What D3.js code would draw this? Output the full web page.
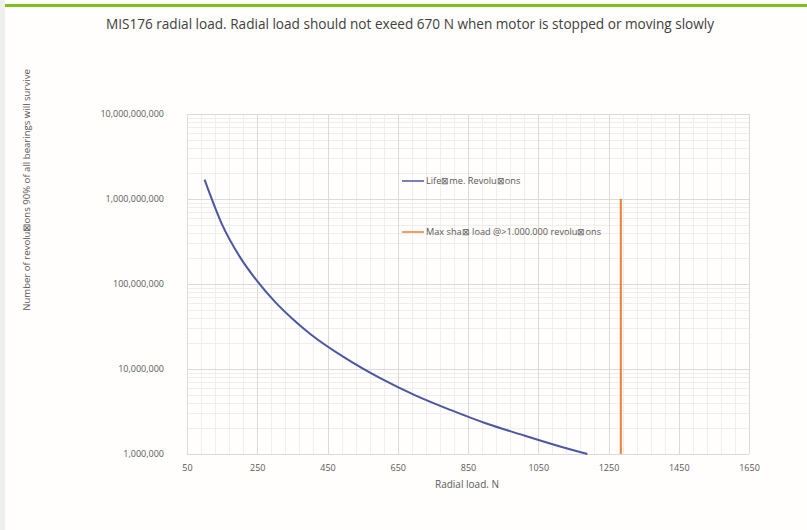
<!DOCTYPE html>
<html>
  <head>
    <meta charset="utf-8">
    <title>MIS176 radial load</title>
    <script type="text/javascript" src="https://cdn.jsdelivr.net/npm/d3@7"></script>
    <style type="text/css">
        body { margin: 0; background: #fffefc; }
        text { font-family: "Open Sans", "Noto Sans", sans-serif; fill: #595959; }
        .grid-major line { stroke: #dcdad6; stroke-width: 1; }
        .grid-minor line { stroke: #f0eeeb; stroke-width: 1; }
    </style>
  </head>
  <body>
    <div id="chart-container"></div>
    <script type="text/javascript">
      // Lifetime curve (load N -> revolutions)
      var loads = [100, 150, 200, 250, 300, 350, 400, 500, 600, 700, 800, 900, 1000, 1100, 1190];
      var revolutions = [1.69e9, 5.0e8, 2.1e8, 1.08e8, 6.2e7, 3.9e7, 2.6e7, 1.35e7, 7.8e6,
                         4.9e6, 3.3e6, 2.3e6, 1.7e6, 1.27e6, 1.0e6];

      // Max shaft load marker
      var maxLoad = [1285, 1285];
      var maxLoadRevs = [1e6, 1e9];

      var xTicks = [50, 250, 450, 650, 850, 1050, 1250, 1450, 1650];
      var yTicks = [1e6, 1e7, 1e8, 1e9, 1e10];

      var title = "MIS176 radial load. Radial load should not exeed 670 N when motor is stopped or moving slowly";
      var xTitle = "Radial load. N";
      var yTitle = "Number of revolu\u22A0ons 90% of all bearings will survive";
      var legendNames = ["Life\u22A0me. Revolu\u22A0ons", "Max sha\u22A0 load @>1.000.000 revolu\u22A0ons"];
      var colors = ["#4b57a3", "#ed7d31"];

      var W = 807, H = 530;
      var pLeft = 187, pRight = 749, pTop = 114, pBottom = 454;

      var svg = d3.select("#chart-container").append("svg")
          .attr("width", W).attr("height", H);

      // page chrome: grey strip on the left, green rule on top
      svg.append("rect").attr("x", 0).attr("y", 0).attr("width", 5).attr("height", H).attr("fill", "#eef0ee");
      svg.append("rect").attr("x", 5).attr("y", 4).attr("width", W - 5).attr("height", 3).attr("fill", "#7fbf1f");

      var x = d3.scaleLinear().domain([50, 1650]).range([pLeft, pRight]);
      var y = d3.scaleLog().domain([1e6, 1e10]).range([pBottom, pTop]);

      // minor grid
      var xMinor = d3.range(50, 1651, 40);
      var yMinor = [];
      yTicks.slice(0, -1).forEach(function(d) {
          for (var k = 2; k < 10; k++) yMinor.push(d * k);
      });

      svg.append("g").attr("class", "grid-minor")
          .selectAll("line").data(xMinor).enter().append("line")
          .attr("x1", function(d) { return Math.round(x(d)) + .5; })
          .attr("x2", function(d) { return Math.round(x(d)) + .5; })
          .attr("y1", pTop).attr("y2", pBottom);
      svg.append("g").attr("class", "grid-minor")
          .selectAll("line").data(yMinor).enter().append("line")
          .attr("y1", function(d) { return Math.round(y(d)) + .5; })
          .attr("y2", function(d) { return Math.round(y(d)) + .5; })
          .attr("x1", pLeft).attr("x2", pRight);

      // major grid
      svg.append("g").attr("class", "grid-major")
          .selectAll("line").data(xTicks).enter().append("line")
          .attr("x1", function(d) { return Math.round(x(d)) + .5; })
          .attr("x2", function(d) { return Math.round(x(d)) + .5; })
          .attr("y1", pTop).attr("y2", pBottom);
      svg.append("g").attr("class", "grid-major")
          .selectAll("line").data(yTicks).enter().append("line")
          .attr("y1", function(d) { return Math.round(y(d)) + .5; })
          .attr("y2", function(d) { return Math.round(y(d)) + .5; })
          .attr("x1", pLeft).attr("x2", pRight);

      // axes (labels only, Excel style)
      var xAxis = svg.append("g").attr("transform", "translate(0," + (pBottom + 14) + ")")
          .call(d3.axisBottom(x).tickValues(xTicks).tickSize(0).tickFormat(d3.format("d")));
      var yAxis = svg.append("g").attr("transform", "translate(" + (pLeft - 20) + ",0)")
          .call(d3.axisLeft(y).tickValues(yTicks).tickSize(0).tickFormat(d3.format(",")));
      [xAxis, yAxis].forEach(function(a) {
          a.select(".domain").remove();
          a.selectAll("text").attr("font-size", 9).style("fill", "#595959")
              .attr("font-family", "\"Open Sans\", sans-serif");
      });
      xAxis.selectAll("text").attr("dy", 0);

      // lifetime curve
      var pts = loads.map(function(d, i) { return [d, revolutions[i]]; });
      var line = d3.line()
          .x(function(d) { return x(d[0]); })
          .y(function(d) { return y(d[1]); })
          .curve(d3.curveMonotoneX);
      svg.append("path").datum(pts)
          .attr("d", line).attr("fill", "none")
          .attr("stroke", colors[0]).attr("stroke-width", 2);

      // max load marker
      var mpts = maxLoad.map(function(d, i) { return [d, maxLoadRevs[i]]; });
      svg.append("path").datum(mpts)
          .attr("d", d3.line().x(function(d) { return x(d[0]); }).y(function(d) { return y(d[1]); }))
          .attr("fill", "none").attr("stroke", colors[1]).attr("stroke-width", 2);

      // legend
      var legendY = [181, 232];
      var lg = svg.append("g").selectAll("g").data(legendNames).enter().append("g")
          .attr("transform", function(d, i) { return "translate(402," + legendY[i] + ")"; });
      lg.append("line").attr("x1", 0).attr("x2", 22)
          .attr("stroke", function(d, i) { return colors[i]; }).attr("stroke-width", 1.5);
      lg.append("text").attr("x", 24).attr("dy", "0.35em").attr("font-size", 9.2).text(function(d) { return d; });

      // titles
      svg.append("text").attr("x", 410).attr("y", 29).attr("text-anchor", "middle")
          .attr("font-size", 13.6).style("fill", "#404040").text(title);
      svg.append("text").attr("x", 467).attr("y", 488).attr("text-anchor", "middle")
          .attr("font-size", 10).text(xTitle);
      svg.append("text").attr("transform", "translate(30,190) rotate(-90)")
          .attr("text-anchor", "middle").attr("font-size", 9.6).text(yTitle);
    </script>
  </body>
</html>
